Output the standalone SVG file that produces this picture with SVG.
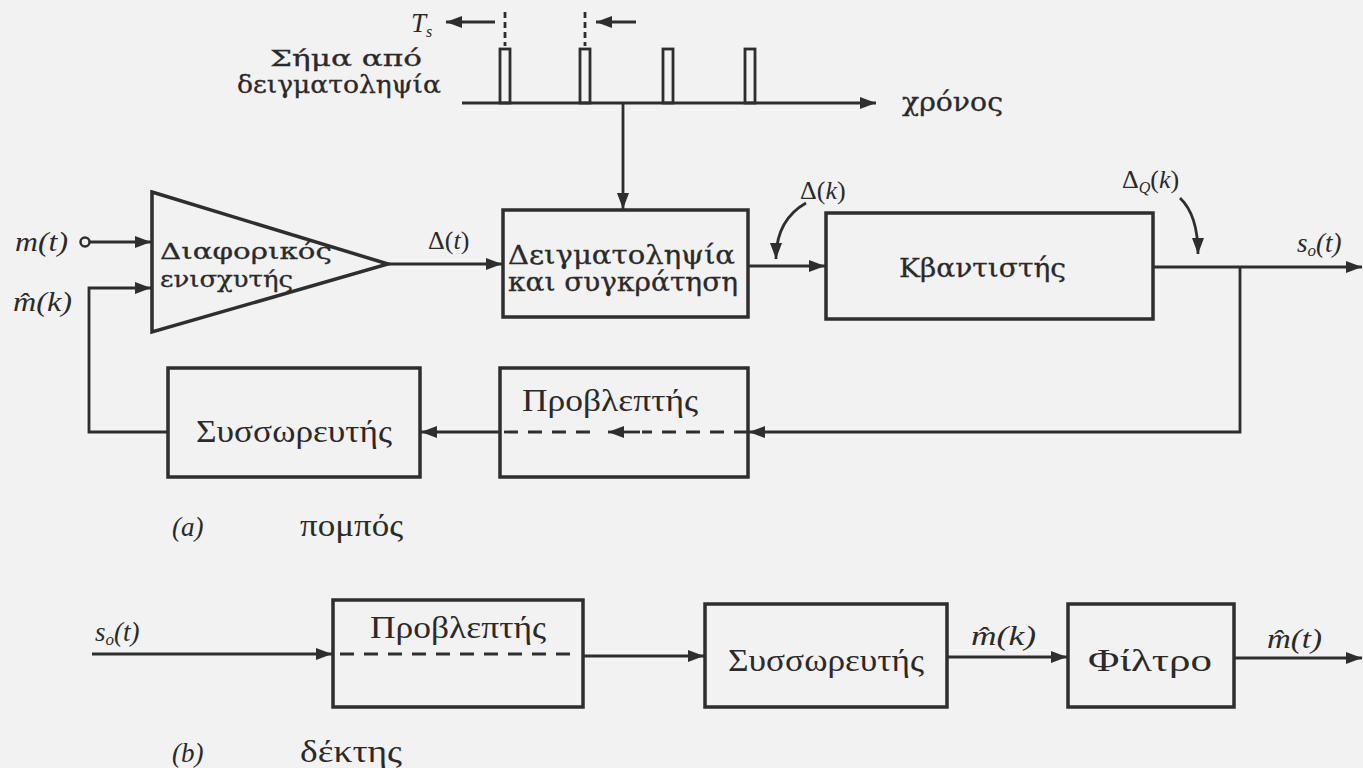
<svg xmlns="http://www.w3.org/2000/svg" width="1363" height="768" viewBox="0 0 1363 768">
<defs>
<marker id="ah" markerUnits="userSpaceOnUse" markerWidth="18" markerHeight="13" refX="16" refY="6.5" orient="auto">
<path d="M0,0.5 L16,6.5 L0,12.5 z" fill="#2e2e2e"/>
</marker>
<style>
.box{fill:none;stroke:#2e2e2e;stroke-width:3.5}
.ln{fill:none;stroke:#2e2e2e;stroke-width:2.8}
.ds{fill:none;stroke:#2e2e2e;stroke-width:2.8;stroke-dasharray:14 10}
.t1{font-family:"DejaVu Serif","Liberation Serif",serif;fill:#2a2a2a;stroke:#2a2a2a;stroke-width:0.3}
.t2{font-family:"Liberation Serif","DejaVu Serif",serif;fill:#2a2a2a}
.it{font-family:"Liberation Serif","DejaVu Serif",serif;font-style:italic;fill:#2a2a2a}
</style>
</defs>
<rect width="1363" height="768" fill="#f2f2f2"/>

<g id="sampling-signal">
<text class="it" x="411" y="32" font-size="27">T<tspan font-size="16" dy="5">s</tspan></text>
<path class="ln" d="M495,22 H446" marker-end="url(#ah)"/>
<path class="ln" d="M636,22 H596" marker-end="url(#ah)"/>
<path class="ln" d="M505,12 V46 M585,12 V46" stroke-dasharray="6 4"/>
<text class="t1" x="270" y="66" font-size="23" textLength="152" lengthAdjust="spacingAndGlyphs">Σήμα από</text>
<text class="t1" x="237" y="93" font-size="24" textLength="204" lengthAdjust="spacingAndGlyphs">δειγματοληψία</text>
<rect class="ln" x="500" y="49" width="10" height="54"/>
<rect class="ln" x="580" y="49" width="10" height="54"/>
<rect class="ln" x="663" y="49" width="10" height="54"/>
<rect class="ln" x="745" y="49" width="10" height="54"/>
<text class="t1" x="902" y="111" font-size="26" textLength="101" lengthAdjust="spacingAndGlyphs">χρόνος</text>
</g>

<g id="diff-amp">
<path class="box" d="M152,192 L388,264 L152,332 Z"/>
<text class="t1" x="160" y="259" font-size="23" textLength="172" lengthAdjust="spacingAndGlyphs">Διαφορικός</text>
<text class="t1" x="160" y="287" font-size="23" textLength="133" lengthAdjust="spacingAndGlyphs">ενισχυτής</text>
</g>

<g id="sample-hold">
<rect class="box" x="503" y="210" width="245" height="107"/>
<text class="t1" x="508" y="264" font-size="26" textLength="227" lengthAdjust="spacingAndGlyphs">Δειγματοληψία</text>
<text class="t1" x="508" y="291" font-size="26" textLength="230" lengthAdjust="spacingAndGlyphs">και συγκράτηση</text>
</g>

<g id="quantizer">
<rect class="box" x="826" y="213" width="327" height="106"/>
<text class="t1" x="899" y="277" font-size="26" textLength="167" lengthAdjust="spacingAndGlyphs">Κβαντιστής</text>
</g>

<g id="predictor-tx">
<rect class="box" x="500" y="368" width="248" height="109"/>
<text class="t2" x="522" y="411" font-size="31" textLength="176" lengthAdjust="spacingAndGlyphs">Προβλεπτής</text>
</g>

<g id="accumulator-tx">
<rect class="box" x="168" y="368" width="252" height="109"/>
<text class="t2" x="196" y="442" font-size="32" textLength="196" lengthAdjust="spacingAndGlyphs">Συσσωρευτής</text>
</g>

<g id="predictor-rx">
<rect class="box" x="333" y="600" width="250" height="107"/>
<text class="t2" x="370" y="638" font-size="31" textLength="176" lengthAdjust="spacingAndGlyphs">Προβλεπτής</text>
</g>

<g id="accumulator-rx">
<rect class="box" x="705" y="604" width="242" height="103"/>
<text class="t2" x="728" y="671" font-size="32" textLength="196" lengthAdjust="spacingAndGlyphs">Συσσωρευτής</text>
</g>

<g id="filter">
<rect class="box" x="1068" y="604" width="166" height="103"/>
<text class="t2" x="1088" y="671" font-size="32" textLength="124" lengthAdjust="spacingAndGlyphs">Φίλτρο</text>
</g>

<g id="connectors">
<circle cx="85" cy="242" r="4.5" fill="none" stroke="#2e2e2e" stroke-width="2.5"/>
<path class="ln" d="M90,242 H151" marker-end="url(#ah)"/>
<path class="ln" d="M168,432 H89 V288 H151" marker-end="url(#ah)"/>
<path class="ln" d="M388,264 H502" marker-end="url(#ah)"/>
<path class="ln" d="M462,103 H876" marker-end="url(#ah)"/>
<path class="ln" d="M623,103 V209" marker-end="url(#ah)"/>
<path class="ln" d="M748,266 H825" marker-end="url(#ah)"/>
<path class="ln" d="M1153,267 H1362" marker-end="url(#ah)"/>
<path class="ln" d="M1240,267 V432 H749" marker-end="url(#ah)"/>
<path class="ds" d="M748,432 H642"/>
<path class="ln" d="M640,432 H608" marker-end="url(#ah)"/>
<path class="ds" d="M590,432 H500"/>
<path class="ln" d="M500,432 H421" marker-end="url(#ah)"/>
<path class="ln" d="M806,203 Q776,220 776,259" marker-end="url(#ah)"/>
<path class="ln" d="M1180,198 Q1198,215 1198,254" marker-end="url(#ah)"/>
<path class="ln" d="M92,654 H332" marker-end="url(#ah)"/>
<path class="ds" d="M340,654 H578"/>
<path class="ln" d="M583,656 H704" marker-end="url(#ah)"/>
<path class="ln" d="M947,657 H1067" marker-end="url(#ah)"/>
<path class="ln" d="M1234,658 H1362" marker-end="url(#ah)"/>
</g>

<g id="labels">
<text class="it" x="15" y="251" font-size="27" textLength="53" lengthAdjust="spacingAndGlyphs">m(t)</text>
<text class="it" x="13" y="311" font-size="27" textLength="59" lengthAdjust="spacingAndGlyphs">m̂(k)</text>
<text class="t2" x="428" y="249" font-size="26">Δ(<tspan class="it">t</tspan>)</text>
<text class="t2" x="800" y="199" font-size="26">Δ(<tspan class="it">k</tspan>)</text>
<text class="t2" x="1122" y="188" font-size="26">Δ<tspan class="it" font-size="16" dy="5">Q</tspan><tspan dy="-5">(</tspan><tspan class="it">k</tspan>)</text>
<text class="it" x="1297" y="252" font-size="27">s<tspan font-size="17" dy="4">o</tspan><tspan dy="-4">(t)</tspan></text>
<text class="it" x="172" y="536" font-size="27">(a)</text>
<text class="t2" x="300" y="536" font-size="31" textLength="103" lengthAdjust="spacingAndGlyphs">πομπός</text>
<text class="it" x="95" y="641" font-size="27">s<tspan font-size="17" dy="4">o</tspan><tspan dy="-4">(t)</tspan></text>
<text class="it" x="971" y="645" font-size="27" textLength="65" lengthAdjust="spacingAndGlyphs">m̂(k)</text>
<text class="it" x="1267" y="648" font-size="27" textLength="55" lengthAdjust="spacingAndGlyphs">m̂(t)</text>
<text class="it" x="172" y="762" font-size="27">(b)</text>
<text class="t2" x="300" y="762" font-size="31" textLength="102" lengthAdjust="spacingAndGlyphs">δέκτης</text>
</g>
</svg>
